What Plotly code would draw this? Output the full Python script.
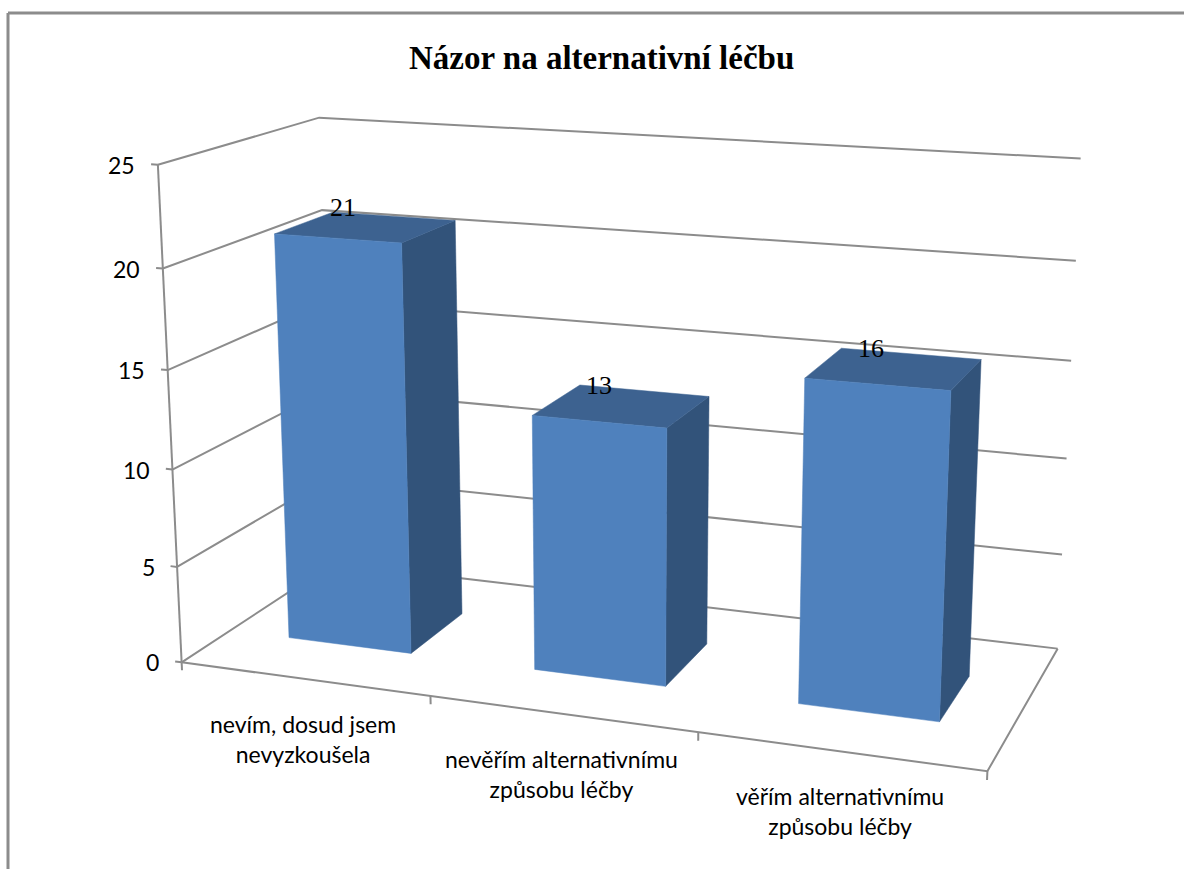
import numpy as np
import plotly.graph_objects as go

# Chart data
TITLE = "Názor na alternativní léčbu"
CATEGORIES = ["nevím, dosud jsem<br>nevyzkoušela",
              "nevěřím alternativnímu<br>způsobu léčby",
              "věřím alternativnímu<br>způsobu léčby"]
VALUES = [21, 13, 16]
Z_TICKS = [0, 5, 10, 15, 20, 25]

# Scene extents: categories on x, depth on y, value on z
X_MAX, Y_MAX, Z_MAX = 3, 1, 25
BAR_HALF_WIDTH = 0.2527
BAR_DEPTH = (0.3006, 0.6802)

# Colours
FRONT = "#4f81bd"
TOP = "#3d6290"
SIDE = "#32537a"
GRID = "#8c8c8c"
FRAME = "#8c8c8c"
WIDTH, HEIGHT = 1184, 869

# Perspective camera of the 3-D column chart
EYE = np.array([0.8208, -2.2554, 0.6316])
LOOK_AT = np.array([0.0121, -0.0176, -0.0005])
BOX = np.array([0.8182, 0.3397, 0.5025])
UP = np.array([-0.0005, -0.0003, 1.0])
FOCAL = 1.2071 * 2087.77
CENTER_X, CENTER_Y = 628.55, 420.82


def project(x, y, z):
    """Scene coordinates (category, depth, value) to plot coordinates."""
    p = BOX * (np.array([x / X_MAX, y / Y_MAX, z / Z_MAX]) - 0.5)
    f = LOOK_AT - EYE
    f = f / np.linalg.norm(f)
    r = np.cross(f, UP)
    r = r / np.linalg.norm(r)
    u = np.cross(r, f)
    d = p - EYE
    depth = d @ f
    return CENTER_X + FOCAL * (d @ r) / depth, CENTER_Y - FOCAL * (d @ u) / depth


def polyline(*points):
    xy = [project(*pt) for pt in points]
    return [a for a, _ in xy], [b for _, b in xy]


fig = go.Figure()


def add_line(*points, width=2.0, color=GRID):
    xs, ys = polyline(*points)
    fig.add_trace(go.Scatter(x=xs, y=ys, mode="lines",
                             line=dict(color=color, width=width),
                             hoverinfo="skip", showlegend=False))


def add_face(color, *points):
    xs, ys = polyline(*points)
    fig.add_trace(go.Scatter(x=xs + xs[:1], y=ys + ys[:1], mode="lines",
                             fill="toself", fillcolor=color,
                             line=dict(color=color, width=0.5),
                             hoverinfo="skip", showlegend=False))


# Wall gridlines, value axis and floor outline
for z in Z_TICKS:
    add_line((0, 0, z), (0, Y_MAX, z), (X_MAX, Y_MAX, z))
    add_line((-0.027, 0, z), (0, 0, z))
add_line((0, 0, 0), (0, 0, Z_MAX))
add_line((0, 0, 0), (X_MAX, 0, 0), (X_MAX, Y_MAX, 0))
for i in range(len(CATEGORIES) + 1):
    add_line((i, 0, 0), (i, 0, -0.42))

# Columns
for i, v in enumerate(VALUES):
    x0, x1 = i + 0.5 - BAR_HALF_WIDTH, i + 0.5 + BAR_HALF_WIDTH
    y0, y1 = BAR_DEPTH
    add_face(SIDE, (x1, y0, 0), (x1, y1, 0), (x1, y1, v), (x1, y0, v))
    add_face(TOP, (x0, y0, v), (x1, y0, v), (x1, y1, v), (x0, y1, v))
    add_face(FRONT, (x0, y0, 0), (x1, y0, 0), (x1, y0, v), (x0, y0, v))

annotations = []
LABEL_FONT = dict(family="Lato", size=23, color="#000000")
VALUE_FONT = dict(family="Liberation Serif", size=26, color="#000000")

for z in Z_TICKS:
    px, py = project(-0.027, 0, z)
    annotations.append(dict(x=px, y=py, text=str(z), showarrow=False,
                            xanchor="right", yanchor="middle", xshift=-14, yshift=-1,
                            font=dict(family="Lato", size=23, color="#000000")))

CATEGORY_NUDGE = [-1, 0, 0]
for i, label in enumerate(CATEGORIES):
    px, py = project(i + 0.5, 0, 0)
    annotations.append(dict(x=px, y=py, text=label, showarrow=False,
                            xanchor="center", yanchor="middle",
                            xshift=CATEGORY_NUDGE[i], yshift=-60,
                            font=LABEL_FONT))

for i, v in enumerate(VALUES):
    px, py = project(i + 0.5, sum(BAR_DEPTH) / 2, v)
    annotations.append(dict(x=px, y=py, text=str(v), showarrow=False,
                            xanchor="center", yanchor="middle",
                            xshift=-23, yshift=20, font=VALUE_FONT))

annotations.append(dict(x=601, y=58, text=f"<b>{TITLE}</b>", showarrow=False,
                        xanchor="center", yanchor="middle",
                        font=dict(family="Liberation Serif", size=33, color="#000000")))

# Chart-area frame, cut by the page on the right and at the bottom
frame = dict(type="line", line=dict(color=FRAME, width=3), xref="x", yref="y")
shapes = [dict(frame, x0=8, y0=13, x1=WIDTH, y1=13),
          dict(frame, x0=8, y0=13, x1=8, y1=HEIGHT)]

fig.update_layout(
    width=WIDTH, height=HEIGHT,
    margin=dict(l=0, r=0, t=0, b=0),
    paper_bgcolor="white", plot_bgcolor="white",
    showlegend=False,
    xaxis=dict(range=[0, WIDTH], visible=False, fixedrange=True),
    yaxis=dict(range=[HEIGHT, 0], visible=False, fixedrange=True),
    annotations=annotations, shapes=shapes,
)
fig.write_html("out.html", config=dict(displayModeBar=False))
